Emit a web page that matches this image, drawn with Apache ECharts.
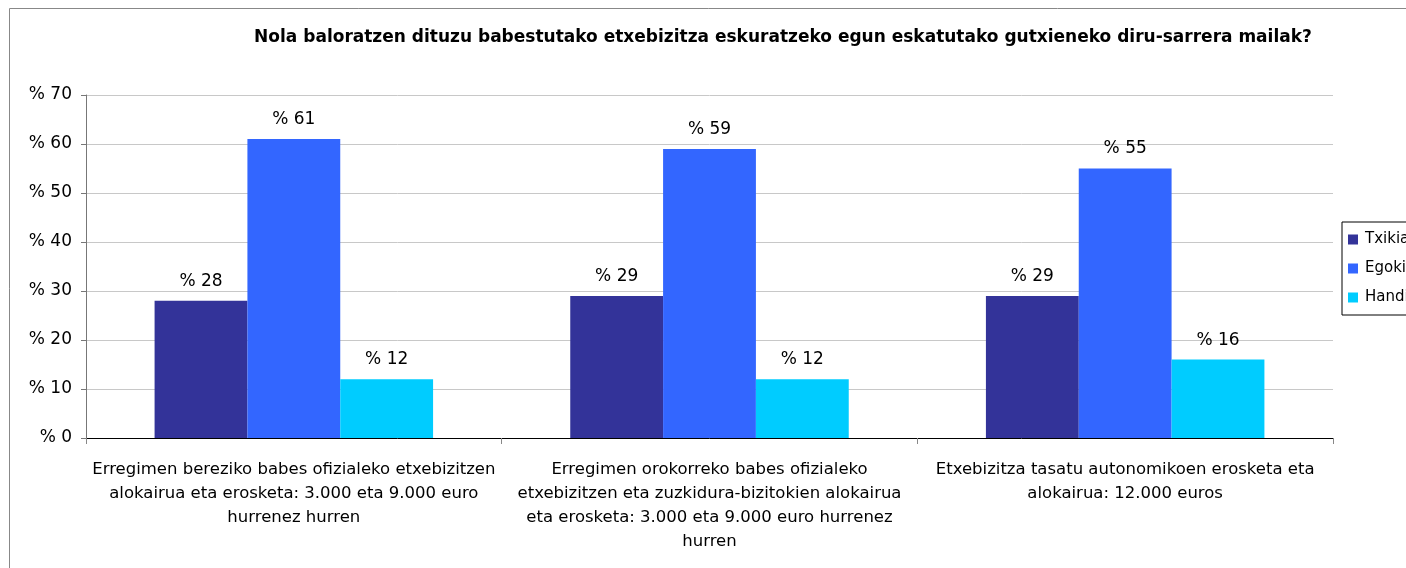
<!DOCTYPE html>
<html>
<head>
<meta charset="utf-8">
<script src="https://cdn.jsdelivr.net/npm/echarts@6/dist/echarts.min.js"></script>
<style>html,body{margin:0;padding:0;background:#fff;}#c{width:1406px;height:568px;}</style>
</head>
<body>
<div id="c"></div>
<script>
var titleText = 'Nola baloratzen dituzu babestutako etxebizitza eskuratzeko egun eskatutako gutxieneko diru-sarrera mailak?';
var categories = [
  'Erregimen bereziko babes ofizialeko etxebizitzen\nalokairua eta erosketa: 3.000 eta 9.000 euro\nhurrenez hurren',
  'Erregimen orokorreko babes ofizialeko\netxebizitzen eta zuzkidura-bizitokien alokairua\neta erosketa: 3.000 eta 9.000 euro hurrenez\nhurren',
  'Etxebizitza tasatu autonomikoen erosketa eta\nalokairua: 12.000 euros'
];
var seriesNames = ['Txikiak', 'Egokiak', 'Handiak'];
var txikiak = [28, 29, 29];
var egokiak = [61, 59, 55];
var handiak = [12, 12, 16];
var yTicks = [0, 10, 20, 30, 40, 50, 60, 70];

var FONT = 'DejaVu Sans';
var colors = ['#333399', '#3366FF', '#00CCFF'];
var chart = echarts.init(document.getElementById('c'), null, {renderer: 'canvas'});
function mk(name, data, color) {
  return {
    name: name, type: 'bar', data: data, barGap: '0%', barCategoryGap: '33%',
    itemStyle: {color: color},
    label: {show: true, position: 'top', distance: 11, color: '#000', fontFamily: FONT, fontSize: 17,
      formatter: function (p) { return '% ' + p.value; }}
  };
}
chart.setOption({
  animation: false,
  textStyle: {fontFamily: FONT},
  graphic: [{type: 'rect', shape: {x: 9.5, y: 8.5, width: 1500, height: 700},
    style: {fill: 'none', stroke: '#888', lineWidth: 1}, silent: true, z: -10}],
  title: {text: titleText, left: 778, top: 24, textAlign: 'center',
    textStyle: {fontFamily: FONT, fontSize: 17, fontWeight: 'bold', color: '#000'}},
  legend: {orient: 'vertical', left: 1342, top: 222, itemWidth: 10, itemHeight: 10, itemGap: 14,
    padding: [10, 8, 10, 6], borderColor: '#000', borderWidth: 1, icon: 'rect',
    textStyle: {fontFamily: FONT, fontSize: 15, color: '#000', padding: [0, 0, 0, 2]}, data: seriesNames},
  grid: {left: 86, right: 73, top: 95, bottom: 130, containLabel: false},
  xAxis: {type: 'category', data: categories,
    axisLine: {lineStyle: {color: '#000', width: 1}},
    axisTick: {show: true, alignWithLabel: false, length: 6, lineStyle: {color: '#888'}},
    axisLabel: {interval: 0, color: '#000', fontFamily: FONT, fontSize: 16.5, lineHeight: 24, margin: 20}},
  yAxis: {type: 'value', min: 0, max: 70, interval: 10,
    axisLine: {show: true, lineStyle: {color: '#777'}},
    axisTick: {show: true, length: 5, lineStyle: {color: '#777'}},
    splitLine: {lineStyle: {color: '#c8c8c8'}},
    axisLabel: {color: '#000', fontFamily: FONT, fontSize: 17, margin: 14,
      formatter: function (v) { return yTicks.indexOf(v) >= 0 ? '% ' + v : ''; }}},
  series: [mk(seriesNames[0], txikiak, colors[0]), mk(seriesNames[1], egokiak, colors[1]), mk(seriesNames[2], handiak, colors[2])]
});
</script>
</body>
</html>
